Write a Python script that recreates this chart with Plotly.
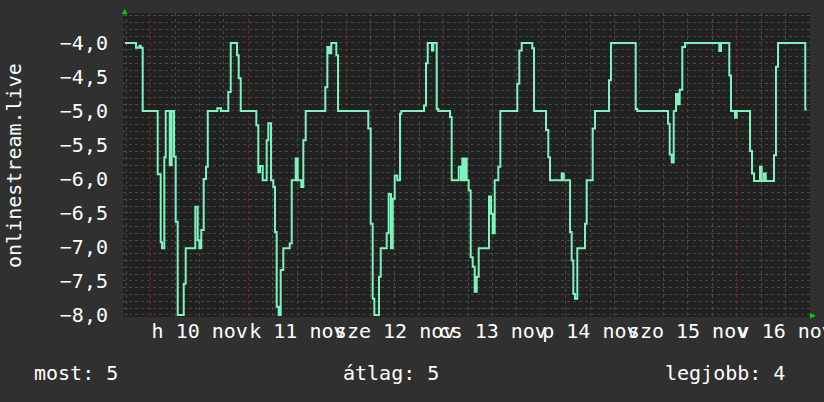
import pandas as pd
import plotly.graph_objects as go

# hours since 10 nov 00:00, value starting at that moment (step line)
hours = [
    -6.32, -3.61, -2.80, -2.46, -1.97, 1.72, 2.46, 2.78, 3.34, 3.69,
    4.67, 5.16, 5.73, 6.14, 6.63, 8.11, 8.60, 10.96, 11.55, 11.94,
    12.43, 13.02, 13.59, 14.01, 16.37, 17.27, 19.07, 19.66, 21.21, 21.62,
    22.12, 25.95, 26.44, 26.86, 27.52, 28.50, 28.90, 29.56, 30.13, 30.54,
    30.96, 31.45, 31.94, 32.58, 34.16, 34.65, 35.63, 36.12, 37.01, 37.50,
    38.09, 42.90, 43.40, 43.89, 44.38, 45.61, 46.03,
    53.47, 54.06, 54.55, 54.95, 56.10, 56.52, 57.99, 58.48, 59.05, 59.47,
    59.96, 60.60, 61.26, 61.58, 67.16, 67.65, 68.07, 69.12, 69.44, 70.28,
    70.67, 73.55, 73.96, 75.68, 76.25, 76.57, 76.91, 77.31, 77.65, 78.14,
    78.63, 79.12, 79.62, 80.11, 80.60, 83.13, 83.62, 84.04, 84.53, 85.42,
    85.91, 90.08, 90.58, 91.17, 93.77, 94.19, 97.14, 97.70, 98.12, 101.00,
    101.49, 103.04, 103.45, 103.85, 104.26, 104.83, 106.72, 107.14, 108.61, 109.18,
    112.62, 113.11, 119.18, 119.57, 127.12, 127.53, 128.02, 128.52, 129.08, 129.50,
    129.99, 130.63, 131.30, 139.72, 140.14, 142.18, 142.60, 143.58, 144.00, 147.27,
    147.76, 148.25, 149.72, 150.14, 150.71, 151.12, 153.16, 153.65, 154.15, 160.85,
    161.20,
]
values = [
    -4.0, -4.07, -4.04, -4.07, -5.0, -5.93, -6.93, -7.02, -5.68, -5.0,
    -5.8, -5.0, -5.67, -6.63, -8.0, -7.54, -7.02, -6.41, -6.9, -7.02,
    -6.75, -6.0, -5.82, -5.0, -4.96, -5.0, -4.72, -4.0, -4.18, -4.52,
    -5.0, -5.21, -5.9, -5.81, -6.02, -5.43, -5.18, -6.02, -6.12, -6.78,
    -7.88, -8.0, -7.34, -7.02, -6.95, -6.02, -5.7, -6.02, -6.12, -5.43,
    -5.0, -4.65, -4.06, -4.15, -4.0, -4.18, -5.0,
    -5.26, -6.66, -7.76, -8.0, -7.44, -7.02, -6.8, -6.22, -7.02, -6.29,
    -5.95, -6.02, -5.04, -5.0, -4.92, -4.3, -4.0, -4.11, -4.0, -4.97,
    -5.0, -5.09, -6.02, -5.82, -6.02, -5.7, -6.02, -5.7, -6.02, -6.17,
    -7.15, -7.29, -7.66, -7.44, -7.02, -6.26, -6.51, -6.8, -6.02, -5.82,
    -5.0, -4.6, -4.11, -4.0, -4.08, -5.0, -5.28, -5.68, -6.02, -5.92,
    -6.02, -6.78, -7.2, -7.69, -7.76, -7.02, -6.66, -6.02, -5.26, -5.0,
    -4.55, -4.0, -4.97, -5.0, -5.19, -5.64, -5.76, -5.0, -4.75, -4.9,
    -4.69, -4.06, -4.0, -4.12, -4.0, -4.48, -5.0, -5.1, -5.0, -5.59,
    -5.92, -6.03, -5.82, -6.03, -5.92, -6.03, -5.65, -4.35, -4.0, -4.98,
    -4.98,
]
day_labels = ["h 10 nov", "k 11 nov", "sze 12 nov", "cs 13 nov", "p 14 nov", "szo 15 nov", "v 16 nov"]
legend_texts = ["most: 5", "átlag: 5", "legjobb: 4"]
series_name = "onlinestream.live"

base = pd.Timestamp("2025-11-10 00:00")
times = base + pd.to_timedelta(hours, unit="h")
day_ticks = [base + pd.Timedelta(days=i) for i in range(len(day_labels))]
x_start = base + pd.Timedelta(hours=-6.81)
x_end = base + pd.Timedelta(hours=162.01)

FONT = "DejaVu Sans Mono"
RED_GRID = "#5e3232"
GREY_GRID = "#4a4a4a"

fig = go.Figure()
fig.add_trace(go.Scatter(x=times, y=values, mode="lines", line_shape="hv",
                         line=dict(color="#7df3bd", width=2), name=series_name))

fig.update_layout(
    width=824, height=402,
    margin=dict(l=123, r=14, t=13, b=85),
    paper_bgcolor="#303030", plot_bgcolor="#212121",
    font=dict(family=FONT, size=20, color="white"),
    separators=", ",
    showlegend=False,
)
fig.update_xaxes(
    range=[x_start, x_end], tickvals=day_ticks, ticktext=day_labels,
    ticklabelshift=49, tickangle=0, ticks="", ticklabeloverflow="allow",
    automargin=False,
    showgrid=True, gridcolor=RED_GRID, griddash="dot", gridwidth=1,
    minor=dict(dtick=6 * 3600 * 1000, tick0=base, showgrid=True,
               gridcolor=GREY_GRID, griddash="dot", gridwidth=1),
    zeroline=False, showline=False,
)
fig.update_yaxes(
    range=[-8.03, -3.56], tick0=-8, dtick=0.5, tickformat=".1f",
    ticks="", ticklabelstandoff=14, automargin=False,
    showgrid=True, gridcolor=RED_GRID, griddash="dot", gridwidth=1,
    minor=dict(dtick=0.1, tick0=-8, showgrid=True,
               gridcolor=GREY_GRID, griddash="dot", gridwidth=1),
    zeroline=False, showline=False,
)

# legend line under the chart
for txt, xp in zip(legend_texts, [-0.1325, 0.3173, 0.786]):
    fig.add_annotation(text=txt, xref="paper", yref="paper", x=xp, y=-0.184,
                       xanchor="left", yanchor="middle", showarrow=False)
fig.add_annotation(text=series_name, xref="paper", yref="paper", x=-0.1587, y=0.5,
                   textangle=-90, xanchor="center", yanchor="middle", showarrow=False)
# axis arrows
fig.add_annotation(text="▲", xref="paper", yref="paper", x=0.003, y=1.0066,
                   xanchor="center", yanchor="middle", showarrow=False,
                   font=dict(size=9, color="#00d000"))
fig.add_annotation(text="▶", xref="paper", yref="paper", x=1.0044, y=0.0066,
                   xanchor="center", yanchor="middle", showarrow=False,
                   font=dict(size=9, color="#00d000"))

fig.write_html("out.html", config={"displayModeBar": False},
               post_script="document.body.style.margin='0';")
